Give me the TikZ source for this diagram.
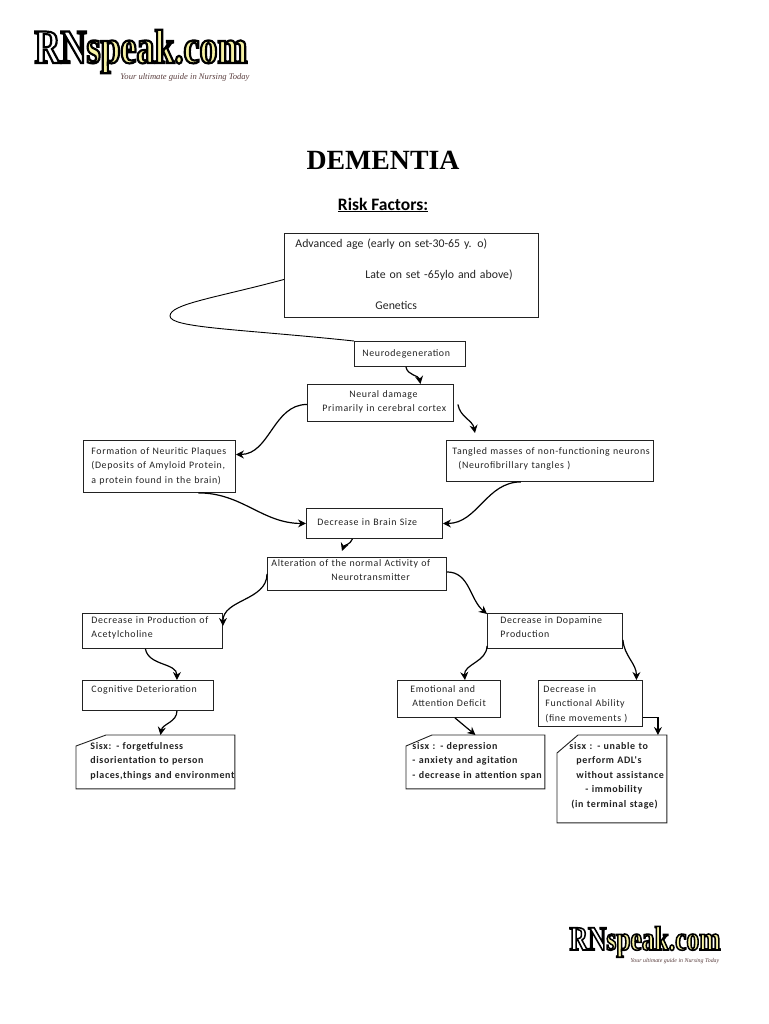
\documentclass[tikz,border=0pt]{standalone}
\usepackage{fontspec}
\usetikzlibrary{arrows.meta}
\setmainfont{Carlito}
\newfontfamily\boxfont[LetterSpace=6]{Carlito}
\newfontfamily\headfont{Liberation Serif}
\newfontfamily\logofont[FakeStretch=.75,FakeBold=4.5]{Liberation Serif}

\definecolor{logoyellow}{HTML}{F6F2A4}
\definecolor{logotag}{HTML}{5A3E3E}
\definecolor{ink}{HTML}{222222}

% logo lettering: size
\newcommand{\rnmark}[1]{{\logofont\bfseries\fontsize{#1}{#1}\selectfont
  \color{white}\special{pdf:code 0 0 0 RG}RN\color{logoyellow}\special{pdf:code 0 0 0 RG}speak.com}}

\tikzset{
  box/.style={draw=ink,line width=.9pt,anchor=north west,inner sep=0pt,align=left,text=ink,
    font=\boxfont\fontsize{9.9}{14.5}\selectfont},
  notebox/.style={box,draw=none,font=\boxfont\bfseries\fontsize{10}{14.4}\selectfont},
  link/.style={draw=black,line width=1.2pt,-{Stealth[length=8pt,width=8pt]}},
  tagline/.style={inner sep=0pt,text=logotag,font=\headfont\itshape\fontsize{#1}{#1}\selectfont},
}

\begin{document}
\begin{tikzpicture}[x=1pt,y=-1pt]
\useasboundingbox (0,0) rectangle (768,1024);

% logos
\node[inner sep=0pt,anchor=base] (logotop) at (141,63) {\rnmark{48}};
\node[tagline=8.6] (tagtop) at (185,77) {Your ultimate guide in Nursing Today};
\node[inner sep=0pt,anchor=base] (logobottom) at (645,950) {\rnmark{34}};
\node[tagline=5.9] (tagbottom) at (675,961) {Your ultimate guide in Nursing Today};

% headings
\node[inner sep=0pt,font=\headfont\bfseries\fontsize{27.8}{30}\selectfont] (title) at (383,160) {DEMENTIA};
\node[inner sep=0pt,font=\bfseries\fontsize{17.5}{20}\selectfont] (riskhead) at (383,205) {\underline{Risk Factors:}};

% boxes
\node[box,text width=254pt,text height=14pt,text depth=70pt,font=\fontsize{11.8}{31}\selectfont] (risk) at (284,233)
  {\hspace*{11pt}Advanced age (early on set-30-65 y. o)\\\hspace*{81pt}Late on set -65ylo and above)\\\hspace*{91pt}Genetics};
\node[box,text width=111pt,text height=15pt,text depth=10pt] (neuro) at (354,341) {\hspace*{8pt}Neurodegeneration};
\node[box,text width=146pt,text height=13pt,text depth=24pt] (damage) at (307,384)
  {\hspace*{42pt}Neural damage\\\hspace*{15pt}Primarily in cerebral cortex};
\node[box,text width=152pt,text height=14pt,text depth=38pt] (plaques) at (83,440)
  {\hspace*{8pt}Formation of Neuritic Plaques\\\hspace*{8pt}(Deposits of Amyloid Protein,\\\hspace*{8pt}a protein found in the brain)};
\node[box,text width=207pt,text height=14pt,text depth=27pt] (tangled) at (446,440)
  {\hspace*{6pt}Tangled masses of non-functioning neurons\\\hspace*{12pt}(Neurofibrillary tangles )};
\node[box,text width=136pt,text height=17pt,text depth=13pt] (brain) at (306,508) {\hspace*{11pt}Decrease in Brain Size};
\node[box,text width=179pt,text height=9pt,text depth=24pt] (alter) at (267,557)
  {\hspace*{4pt}Alteration of the normal Activity of\\\hspace*{64pt}Neurotransmitter};
\node[box,text width=140pt,text height=10pt,text depth=25pt] (acetyl) at (82,613)
  {\hspace*{9pt}Decrease in Production of\\\hspace*{9pt}Acetylcholine};
\node[box,text width=131pt,text height=12pt,text depth=18pt] (cognitive) at (82,680) {\hspace*{9pt}Cognitive Deterioration};
\node[box,text width=135pt,text height=10pt,text depth=25pt] (dopamine) at (487,613)
  {\hspace*{13pt}Decrease in Dopamine\\\hspace*{13pt}Production};
\node[box,text width=103pt,text height=12pt,text depth=25pt] (emotional) at (397,680)
  {\hspace*{13pt}Emotional and\\\hspace*{15pt}Attention Deficit};
\node[box,text width=104pt,text height=12pt,text depth=34pt] (functional) at (538,680)
  {\hspace*{5pt}Decrease in\\\hspace*{7pt}Functional Ability\\\hspace*{7pt}(fine movements )};

% notes with a cut corner
\node[notebox,text width=158pt,text height=14pt,text depth=39pt] (sisxa) at (76,735)
  {\hspace*{14pt}Sisx: - forgetfulness\\\hspace*{14pt}disorientation to person\\\hspace*{14pt}places,things and environment};
\node[notebox,text width=138pt,text height=14pt,text depth=39pt] (sisxb) at (406,735)
  {\hspace*{6pt}sisx : - depression\\\hspace*{6pt}- anxiety and agitation\\\hspace*{6pt}- decrease in attention span};
\node[notebox,text width=109pt,text height=14pt,text depth=73pt] (sisxc) at (557,735)
  {\hspace*{12pt}sisx : - unable to\\\hspace*{19pt}perform ADL's\\\hspace*{19pt}without assistance\\\hspace*{28pt}- immobility\\\hspace*{14pt}(in terminal stage)};
\foreach \note/\dx/\dy in {sisxa/30/11,sisxb/26/11,sisxc/21/18}
  \draw[draw=ink,line width=.9pt] ([yshift=-\dy pt]\note.north west) -- ([xshift=\dx pt]\note.north west)
    -- (\note.north east) -- (\note.south east) -- (\note.south west) -- cycle;

% connectors
\draw[draw=black,line width=.9pt] ([yshift=-4pt]risk.west) .. controls (215,298) and (170,304) .. (170,316)
  .. controls (170,328) and (240,329) .. (neuro.north west);
\draw[link] ([xshift=-4pt]neuro.south) to[out=-80,in=100] ([xshift=40pt]damage.north);
\draw[link] ([yshift=-1.5pt]damage.west) to[out=180,in=0] ([yshift=12pt]plaques.east);
\draw[link] ([xshift=4pt,yshift=-1.5pt]damage.east) to[out=-80,in=100] ([xshift=-75pt,yshift=7pt]tangled.north);
\draw[link] ([xshift=39pt]plaques.south) to[out=0,in=180] (brain.west);
\draw[link] ([xshift=-29pt]tangled.south) to[out=180,in=0] (brain.east);
\draw[link] ([xshift=-22pt]brain.south) to[out=-110,in=70] ([xshift=-15pt,yshift=6pt]alter.north);
\draw[link] ([yshift=0pt]alter.west) to[out=-90,in=90] ([yshift=5pt]acetyl.east);
\draw[link] ([yshift=2pt]alter.east) to[out=0,in=140] ([yshift=17pt]dopamine.west);
\draw[link] ([xshift=-7pt]acetyl.south) to[out=-80,in=90] ([xshift=29pt]cognitive.north);
\draw[link] ([xshift=29pt]cognitive.south) to[out=-90,in=80] ([xshift=5pt]sisxa.north);
\draw[link] ([yshift=-15pt]dopamine.west) to[out=-90,in=95] ([xshift=16pt]emotional.north);
\draw[link] ([yshift=-9pt]dopamine.east) to[out=-85,in=90] ([xshift=46pt]functional.north);
\draw[link] ([xshift=6pt]emotional.south) -- (sisxb.north);
\draw[link] ([yshift=-14pt]functional.east) -| ([xshift=46pt]sisxc.north);
\end{tikzpicture}
\end{document}
